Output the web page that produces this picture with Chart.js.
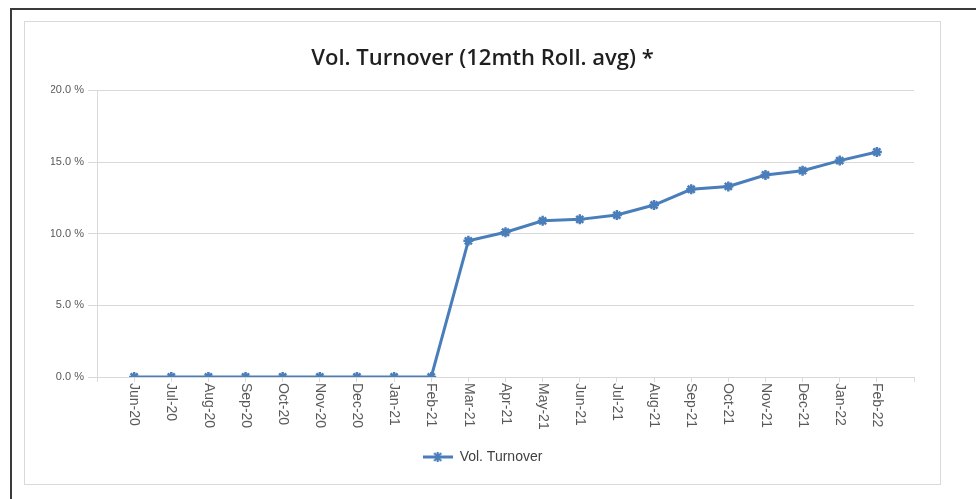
<!DOCTYPE html>
<html>
<head>
<meta charset="utf-8">
<script src="https://cdn.jsdelivr.net/npm/chart.js@4.4.0/dist/chart.umd.min.js"></script>
<style>
  html, body { margin: 0; padding: 0; background: #fff; }
  body { width: 976px; height: 499px; position: relative; overflow: hidden; }
  #outer {
    position: absolute; left: 10px; top: 8px; width: 980px; height: 500px;
    border-top: 2px solid #3a3a3a; border-left: 2px solid #3a3a3a;
  }
  #frame {
    position: absolute; left: 24px; top: 21px; width: 915px; height: 462px;
    border: 1px solid #d9d9d9; background: #fff;
  }
  #chart { display: block; }
</style>
</head>
<body>
<div id="outer"></div>
<div id="frame"><canvas id="chart" width="915" height="462"></canvas></div>
<script>
// Data
const months = ['Jun-20', 'Jul-20', 'Aug-20', 'Sep-20', 'Oct-20', 'Nov-20', 'Dec-20', 'Jan-21', 'Feb-21',
    'Mar-21', 'Apr-21', 'May-21', 'Jun-21', 'Jul-21', 'Aug-21', 'Sep-21', 'Oct-21', 'Nov-21', 'Dec-21',
    'Jan-22', 'Feb-22'];
const volTurnover = [0, 0, 0, 0, 0, 0, 0, 0, 0,
    9.5, 10.1, 10.9, 11.0, 11.3, 12.0, 13.1, 13.3, 14.1, 14.4, 15.1, 15.7];
const yTicks = [0, 5, 10, 15, 20];

const blue = '#4a7ebb';
const tickFont = '"Liberation Sans", Arial, sans-serif';

// legend symbol: line with star marker
function legendSymbol() {
    const c = document.createElement('canvas');
    c.width = 30; c.height = 12;
    const g = c.getContext('2d');
    g.strokeStyle = blue;
    g.lineWidth = 3;
    g.beginPath(); g.moveTo(0, 6); g.lineTo(30, 6); g.stroke();
    g.lineWidth = 2;
    g.beginPath();
    g.moveTo(11.5, 2); g.lineTo(18.5, 10);
    g.moveTo(18.5, 2); g.lineTo(11.5, 10);
    g.moveTo(15, 1); g.lineTo(15, 11);
    g.stroke();
    return c;
}

// x labels read top-to-bottom (rotated clockwise), drawn from the scale positions
const downLabels = {
    id: 'downLabels',
    afterDraw(chart) {
        const x = chart.scales.x;
        const ctx = chart.ctx;
        ctx.save();
        ctx.font = '14px ' + tickFont;
        ctx.fillStyle = '#595959';
        ctx.textAlign = 'left';
        ctx.textBaseline = 'middle';
        months.forEach((m, i) => {
            const px = x.getPixelForValue(i);
            ctx.save();
            ctx.translate(px, x.top + 6);
            ctx.rotate(Math.PI / 2);
            ctx.fillText(m, 0, 0);
            ctx.restore();
        });
        ctx.restore();
    }
};

new Chart(document.getElementById('chart'), {
    type: 'line',
    data: {
        datasets: [{
            label: 'Vol. Turnover',
            data: volTurnover.map((v, i) => ({ x: i, y: v })),
            borderColor: blue,
            backgroundColor: blue,
            borderWidth: 3,
            tension: 0,
            pointStyle: 'star',
            pointRadius: 5,
            pointBorderWidth: 2.5,
            pointBorderColor: blue
        }]
    },
    options: {
        responsive: false,
        animation: false,
        events: [],
        layout: { padding: { left: 26, right: 26, top: 0, bottom: 10 } },
        plugins: {
            title: {
                display: true,
                text: 'Vol. Turnover (12mth Roll. avg) *',
                color: '#1f1f1f',
                font: { family: '"Open Sans", sans-serif', size: 22, weight: '600' },
                padding: { top: 24, bottom: 18 }
            },
            legend: {
                position: 'bottom',
                labels: {
                    usePointStyle: true,
                    pointStyle: legendSymbol(),
                    pointStyleWidth: 30,
                    color: '#404040',
                    font: { family: tickFont, size: 14 },
                    padding: 10
                }
            },
            tooltip: { enabled: false }
        },
        scales: {
            x: {
                type: 'linear',
                min: -1,
                max: months.length,
                afterBuildTicks: s => { s.ticks = []; for (let i = -1; i <= months.length; i++) s.ticks.push({ value: i }); },
                afterFit: s => { s.height = 63; },
                ticks: {
                    autoSkip: false,
                    minRotation: 90,
                    maxRotation: 90,
                    color: 'rgba(0,0,0,0)',
                    font: { family: tickFont, size: 13 },
                    callback: v => months[v] || ''
                },
                grid: { drawOnChartArea: false, drawTicks: true, tickLength: 5, color: '#d9d9d9' },
                border: { color: '#d9d9d9', width: 1 }
            },
            y: {
                min: 0,
                max: 20,
                afterBuildTicks: s => { s.ticks = yTicks.map(v => ({ value: v })); },
                afterFit: s => { s.width = 46; },
                ticks: {
                    padding: 4,
                    color: '#595959',
                    font: { family: tickFont, size: 11 },
                    callback: v => v.toFixed(1) + ' %'
                },
                grid: { color: '#d9d9d9', tickLength: 9 },
                border: { color: '#d9d9d9', width: 1 }
            }
        }
    },
    plugins: [downLabels]
});
</script>
</body>
</html>
